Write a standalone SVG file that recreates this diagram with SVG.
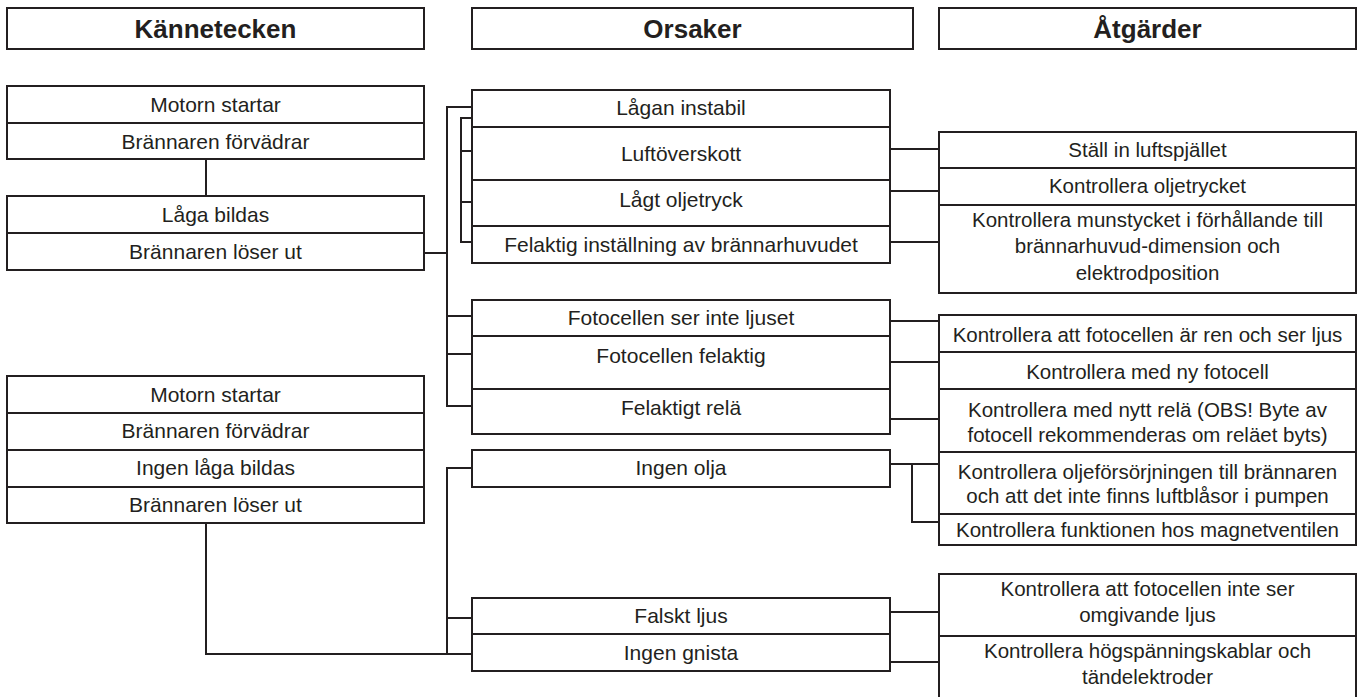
<svg xmlns="http://www.w3.org/2000/svg" width="1363" height="697" viewBox="0 0 1363 697">
<style>
.b{fill:#fff;stroke:#231f20;stroke-width:2}
.d{stroke:#231f20;stroke-width:2;fill:none}
.h{font-family:"Liberation Sans",Arial,sans-serif;font-weight:bold;font-size:26px;fill:#231f20;text-anchor:middle}
.t{font-family:"Liberation Sans",Arial,sans-serif;font-size:21px;fill:#231f20;text-anchor:middle}
.r{font-family:"Liberation Sans",Arial,sans-serif;font-size:20.5px;fill:#231f20;text-anchor:middle}
.c{stroke:#231f20;stroke-width:2;fill:none;stroke-linejoin:miter}
</style>
<rect width="1363" height="697" fill="#fff"/>
<g id="connectors" class="c">
<path d="M206,159V196"/>
<path d="M424,253H447"/>
<path d="M472,107H447V406H472M447,316H472M447,354H472"/>
<path d="M472,118H461V242H472M461,151H472M461,202H472"/>
<path d="M890,149H939M890,191H939M890,242H939"/>
<path d="M890,321H939M890,362H939M890,419H939"/>
<path d="M890,464H939M912,464V522H939"/>
<path d="M890,612H939M890,662H939"/>
<path d="M206,523V654H472M472,468H447V654M447,618H472"/>
</g>
<g id="hdr-kannetecken"><rect class="b" x="7" y="8" width="417" height="41"/><text class="h" x="215.5" y="38">Kännetecken</text></g>
<g id="hdr-orsaker"><rect class="b" x="472" y="8" width="441" height="41"/><text class="h" x="692.5" y="38">Orsaker</text></g>
<g id="hdr-atgarder"><rect class="b" x="939" y="8" width="417" height="41"/><text class="h" x="1147.5" y="38">Åtgärder</text></g>

<g id="k1"><rect class="b" x="7" y="86" width="417" height="73"/><path class="d" d="M7,123H424"/>
<text class="t" x="215.5" y="112">Motorn startar</text><text class="t" x="215.5" y="149">Brännaren förvädrar</text></g>
<g id="k2"><rect class="b" x="7" y="196" width="417" height="74"/><path class="d" d="M7,233H424"/>
<text class="t" x="215.5" y="222">Låga bildas</text><text class="t" x="215.5" y="259">Brännaren löser ut</text></g>
<g id="k3"><rect class="b" x="7" y="376" width="417" height="147"/><path class="d" d="M7,413H424M7,450H424M7,487H424"/>
<text class="t" x="215.5" y="402">Motorn startar</text><text class="t" x="215.5" y="438">Brännaren förvädrar</text>
<text class="t" x="215.5" y="475">Ingen låga bildas</text><text class="t" x="215.5" y="512">Brännaren löser ut</text></g>

<g id="o1"><rect class="b" x="472" y="90" width="418" height="173"/><path class="d" d="M472,127H890M472,180H890M472,226H890"/>
<text class="t" x="681" y="115">Lågan instabil</text><text class="t" x="681" y="161">Luftöverskott</text>
<text class="t" x="681" y="207">Lågt oljetryck</text><text class="t" x="681" y="252">Felaktig inställning av brännarhuvudet</text></g>
<g id="o2"><rect class="b" x="472" y="300" width="418" height="134"/><path class="d" d="M472,336H890M472,389H890"/>
<text class="t" x="681" y="325">Fotocellen ser inte ljuset</text><text class="t" x="681" y="363">Fotocellen felaktig</text>
<text class="t" x="681" y="415">Felaktigt relä</text></g>
<g id="o3"><rect class="b" x="472" y="450" width="418" height="37"/><text class="t" x="681" y="475">Ingen olja</text></g>
<g id="o4"><rect class="b" x="472" y="598" width="418" height="73"/><path class="d" d="M472,634H890"/>
<text class="t" x="681" y="623">Falskt ljus</text><text class="t" x="681" y="660">Ingen gnista</text></g>

<g id="a1"><rect class="b" x="939" y="132" width="417" height="161"/><path class="d" d="M939,168H1356M939,205H1356"/>
<text class="r" x="1147.5" y="157">Ställ in luftspjället</text><text class="r" x="1147.5" y="193">Kontrollera oljetrycket</text>
<text class="r" x="1147.5" y="227">Kontrollera munstycket i förhållande till</text>
<text class="r" x="1147.5" y="253">brännarhuvud-dimension och</text>
<text class="r" x="1147.5" y="280">elektrodposition</text></g>
<g id="a2"><rect class="b" x="939" y="315" width="417" height="137"/><path class="d" d="M939,352H1356M939,389H1356"/>
<text class="r" x="1147.5" y="342">Kontrollera att fotocellen är ren och ser ljus</text>
<text class="r" x="1147.5" y="379">Kontrollera med ny fotocell</text>
<text class="r" x="1147.5" y="417">Kontrollera med nytt relä (OBS! Byte av</text>
<text class="r" x="1147.5" y="442">fotocell rekommenderas om reläet byts)</text></g>
<g id="a3"><rect class="b" x="939" y="452" width="417" height="93"/><path class="d" d="M939,514H1356"/>
<text class="r" x="1147.5" y="479">Kontrollera oljeförsörjningen till brännaren</text>
<text class="r" x="1147.5" y="503">och att det inte finns luftblåsor i pumpen</text>
<text class="r" x="1147.5" y="537">Kontrollera funktionen hos magnetventilen</text></g>
<g id="a4"><rect class="b" x="939" y="574" width="417" height="124"/><path class="d" d="M939,636H1356"/>
<text class="r" x="1147.5" y="596">Kontrollera att fotocellen inte ser</text>
<text class="r" x="1147.5" y="622">omgivande ljus</text>
<text class="r" x="1147.5" y="658">Kontrollera högspänningskablar och</text>
<text class="r" x="1147.5" y="684">tändelektroder</text></g>
</svg>
